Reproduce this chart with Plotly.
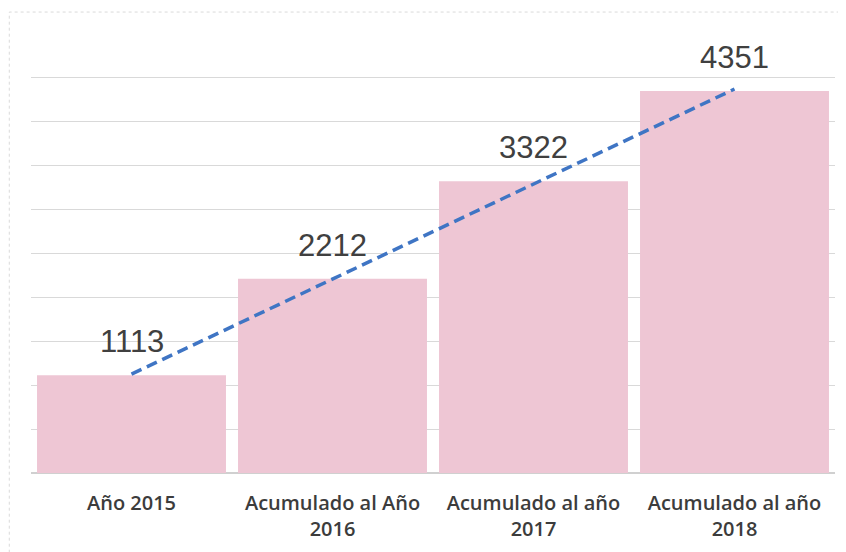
import numpy as np
import plotly.graph_objects as go

# datos
categorias = ["Año 2015", "Acumulado al Año<br>2016", "Acumulado al año<br>2017", "Acumulado al año<br>2018"]
valores = [1113, 2212, 3322, 4351]

# linea de tendencia lineal (como la de Excel)
idx = np.arange(1, len(valores) + 1)
pend, orig = np.polyfit(idx, valores, 1)
tendencia = pend * idx + orig

fig = go.Figure()

fig.add_trace(go.Bar(
    x=categorias,
    y=valores,
    marker=dict(color="#eec6d4", line=dict(width=0)),
    showlegend=False,
    hoverinfo="x+y",
))

fig.add_trace(go.Scatter(
    x=categorias,
    y=tendencia,
    mode="lines",
    line=dict(color="#3f75c4", width=3.5, dash="11px,6px"),
    showlegend=False,
    hoverinfo="skip",
))

# etiquetas de valor encima de cada barra
for c, v in zip(categorias, valores):
    fig.add_annotation(
        x=c, y=v, text=str(v),
        showarrow=False, yanchor="bottom", yshift=14,
        font=dict(family="Liberation Sans, Arial, sans-serif", size=31, color="#404040"),
    )

# marco del grafico
fig.add_shape(
    type="rect", xref="paper", yref="paper",
    x0=-0.027, x1=1.03, y0=-0.25, y1=1.05,
    line=dict(color="#dadada", width=1, dash="dot"),
)

fig.update_xaxes(
    showgrid=False,
    showline=False,
    ticks="outside",
    ticklen=12,
    tickcolor="rgba(0,0,0,0)",
    tickfont=dict(family="Open Sans, sans-serif", size=20, color="#3c3c3c", weight=600),
)
fig.update_yaxes(
    range=[0, 5000],
    dtick=500,
    showticklabels=False,
    showgrid=True,
    gridcolor="#d9d9d9",
    gridwidth=1,
    zeroline=True,
    zerolinecolor="#d0d0d0",
)

# el navegador deja 8px de margen en el body: se compensa aqui
fig.update_layout(
    width=846,
    height=552,
    margin=dict(l=23, r=19, t=26, b=87),
    bargap=0.06,
    plot_bgcolor="white",
    paper_bgcolor="white",
)

fig.write_html("out.html")
